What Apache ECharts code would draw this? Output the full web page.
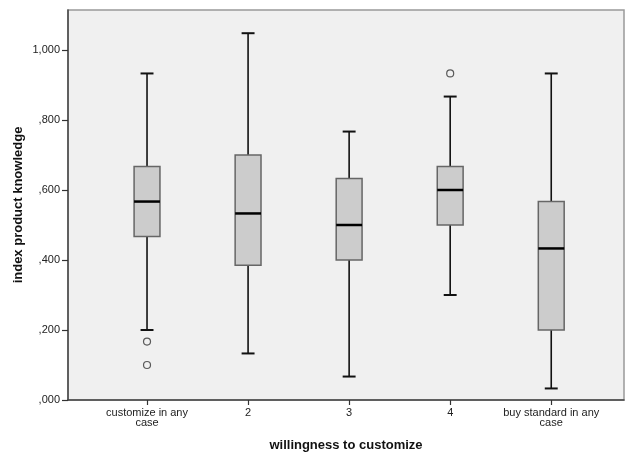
<!DOCTYPE html>
<html>
<head>
<meta charset="utf-8">
<script src="https://cdn.jsdelivr.net/npm/echarts@6/dist/echarts.min.js"></script>
<style>html,body{margin:0;padding:0;background:#fff}#c{width:625px;height:455px}</style>
</head>
<body>
<div id="c"></div>
<script>
// Data
var categories = ['customize in any\ncase', '2', '3', '4', 'buy standard in any\ncase'];
var categoryPos = [1, 2, 3, 4, 5];
var whiskerLow = [0.200, 0.133, 0.067, 0.300, 0.033];
var q1Values = [0.467, 0.385, 0.400, 0.500, 0.200];
var medianValues = [0.567, 0.533, 0.500, 0.600, 0.433];
var q3Values = [0.667, 0.700, 0.633, 0.667, 0.567];
var whiskerHigh = [0.933, 1.048, 0.767, 0.867, 0.933];
var outliers = [[1, 0.167], [1, 0.100], [4, 0.933]];
var yTicks = [0, 0.2, 0.4, 0.6, 0.8, 1.0];

var boxData = categoryPos.map(function (x, i) {
  return [x, whiskerLow[i], q1Values[i], medianValues[i], q3Values[i], whiskerHigh[i]];
});

function fmtY(v) {
  var s = v.toFixed(3).replace('.', ',');
  if (s.indexOf('0,') === 0) s = s.substring(1);
  return s;
}

var chart = echarts.init(document.getElementById('c'), null, {renderer: 'canvas'});
var font = 'Liberation Sans, Arial, sans-serif';
chart.setOption({
  animation: false,
  backgroundColor: '#ffffff',
  grid: {
    left: 68, right: 1, top: 10, bottom: 55,
    outerBoundsMode: 'none', containLabel: false,
    show: true, backgroundColor: '#f0f0f0', borderColor: '#999999', borderWidth: 1.5
  },
  xAxis: {
    type: 'value', min: 0.218, max: 5.72,
    name: 'willingness to customize', nameLocation: 'middle', nameGap: 39, nameMoveOverlap: false,
    nameTextStyle: {fontFamily: font, fontWeight: 'bold', fontSize: 13, color: '#111'},
    axisLine: {show: true, onZero: false, lineStyle: {color: '#444', width: 1.5}},
    axisTick: {show: true, customValues: categoryPos, length: 5, lineStyle: {color: '#333', width: 1.2}},
    axisLabel: {
      customValues: categoryPos, margin: 8, fontFamily: font, fontSize: 11, color: '#222', lineHeight: 10,
      formatter: function (v) { return categories[Math.round(v) - 1]; }
    },
    splitLine: {show: false}
  },
  yAxis: {
    type: 'value', min: 0, max: 1.1143,
    name: 'index product knowledge', nameLocation: 'middle', nameGap: 43, nameMoveOverlap: false,
    nameTextStyle: {fontFamily: font, fontWeight: 'bold', fontSize: 13, color: '#111'},
    axisLine: {show: true, lineStyle: {color: '#444', width: 1.5}},
    axisTick: {show: true, customValues: yTicks, length: 6, lineStyle: {color: '#333', width: 1.2}},
    axisLabel: {customValues: yTicks, margin: 8, fontFamily: font, fontSize: 11, color: '#222', formatter: fmtY},
    splitLine: {show: false}
  },
  series: [{
    type: 'custom',
    data: boxData,
    encode: {x: 0, y: [1, 2, 3, 4, 5]},
    renderItem: function (params, api) {
      var x = api.value(0);
      var unit = api.size([1, 0])[0];
      var hb = unit * 0.128, hc = unit * 0.064;
      var pMin = api.coord([x, api.value(1)]);
      var pQ1 = api.coord([x, api.value(2)]);
      var pMed = api.coord([x, api.value(3)]);
      var pQ3 = api.coord([x, api.value(4)]);
      var pMax = api.coord([x, api.value(5)]);
      var cx = pMed[0];
      var ws = {stroke: '#111', lineWidth: 1.6};
      return {
        type: 'group',
        children: [
          {type: 'line', shape: {x1: cx, y1: pMax[1], x2: cx, y2: pQ3[1]}, style: ws},
          {type: 'line', shape: {x1: cx, y1: pQ1[1], x2: cx, y2: pMin[1]}, style: ws},
          {type: 'line', shape: {x1: cx - hc, y1: pMax[1], x2: cx + hc, y2: pMax[1]}, style: {stroke: '#111', lineWidth: 2}},
          {type: 'line', shape: {x1: cx - hc, y1: pMin[1], x2: cx + hc, y2: pMin[1]}, style: {stroke: '#111', lineWidth: 2}},
          {type: 'rect', shape: {x: cx - hb, y: pQ3[1], width: 2 * hb, height: pQ1[1] - pQ3[1]},
            style: {fill: '#cccccc', stroke: '#666666', lineWidth: 1.5}},
          {type: 'line', shape: {x1: cx - hb, y1: pMed[1], x2: cx + hb, y2: pMed[1]}, style: {stroke: '#000', lineWidth: 2.5}}
        ]
      };
    }
  }, {
    type: 'scatter',
    data: outliers,
    symbol: 'circle',
    symbolSize: 7,
    itemStyle: {color: 'rgba(0,0,0,0)', borderColor: '#333', borderWidth: 1.2}
  }]
});
</script>
</body>
</html>
